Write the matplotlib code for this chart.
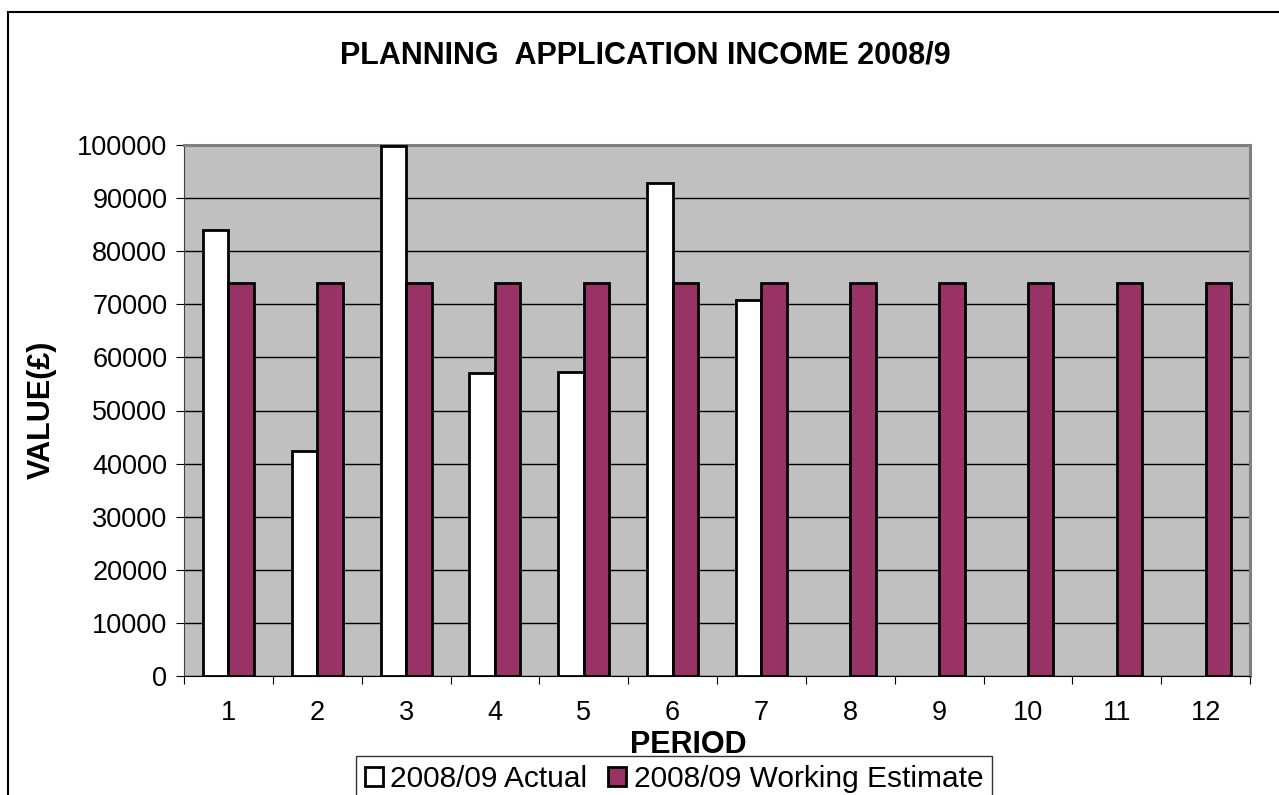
import matplotlib.pyplot as plt
from matplotlib.patches import Rectangle

plt.rcParams['font.family'] = ['Liberation Sans', 'DejaVu Sans']

# data
periods = [1, 2, 3, 4, 5, 6, 7, 8, 9, 10, 11, 12]
actual = [84000, 42400, 99800, 57000, 57200, 92800, 70800]
estimate = [74000, 74000, 74000, 74000, 74000, 74000,
            74000, 74000, 74000, 74000, 74000, 74000]

W, H = 1279, 795
fig = plt.figure(figsize=(W / 100, H / 100), dpi=100)

# plot area in pixel coords of the reference
left, right, top, bottom = 184, 1250, 145, 676
ax = fig.add_axes([left / W, 1 - bottom / H, (right - left) / W, (bottom - top) / H])
ax.set_facecolor('#C0C0C0')

bw = 0.287
ax.bar([p - bw / 2 for p in periods[:len(actual)]], actual, width=bw,
       color='white', edgecolor='black', linewidth=2, zorder=3,
       label='2008/09 Actual')
ax.bar([p + bw / 2 for p in periods], estimate, width=bw,
       color='#993366', edgecolor='black', linewidth=2, zorder=3,
       label='2008/09 Working Estimate')

ax.set_xlim(0.5, 12.5)
ax.set_ylim(0, 100000)
ax.set_yticks(range(0, 100001, 10000))
ax.yaxis.grid(True, color='black', linewidth=1, zorder=0)
ax.tick_params(axis='y', direction='out', length=6, labelsize=19.5, pad=6)

# ticks between categories, labels at category centres
ax.set_xticks([p + 0.5 for p in [0] + periods])
ax.set_xticklabels([])
ax.set_xticks(periods, minor=True)
ax.set_xticklabels([str(p) for p in periods], minor=True)
ax.tick_params(axis='x', which='major', direction='out', length=6)
ax.tick_params(axis='x', which='minor', length=0, labelsize=19.5, pad=17)

for s in ['top', 'right']:
    ax.spines[s].set_color('#808080')
    ax.spines[s].set_linewidth(2.2)
ax.spines['left'].set_color('#404040')
ax.spines['bottom'].set_color('black')

fig.text(645 / W, 1 - 56 / H, 'PLANNING  APPLICATION INCOME 2008/9',
         ha='center', va='center', fontsize=22, fontweight='bold')
fig.text(688 / W, 1 - 745 / H, 'PERIOD', ha='center', va='center',
         fontsize=22, fontweight='bold')
fig.text(42 / W, 1 - 410 / H, 'VALUE(£)', ha='center', va='center',
         rotation=90, fontsize=22, fontweight='bold')

leg = fig.legend(loc='upper left', bbox_to_anchor=(356 / W, 1 - 756 / H),
                 ncol=2, fontsize=21.5, frameon=True, fancybox=False,
                 edgecolor='black', handlelength=0.6, handleheight=0.6,
                 handletextpad=0.25, columnspacing=0.7, borderpad=0.3,
                 borderaxespad=0)
leg.get_frame().set_linewidth(1)

# outer chart border (cropped at right and bottom in the reference)
fig.patches.append(Rectangle((8 / W, -0.1), 1.2, 1 - 12 / H + 0.1,
                             transform=fig.transFigure, fill=False,
                             edgecolor='black', linewidth=1.5))

fig.savefig('out.png', dpi=100)
